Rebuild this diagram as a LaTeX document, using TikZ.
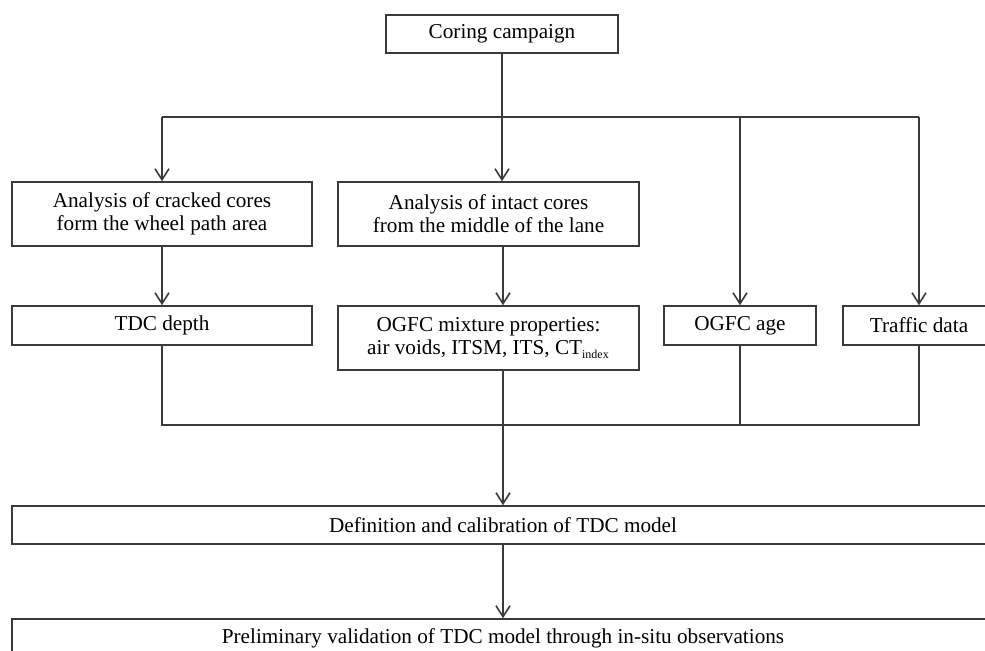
\documentclass[tikz,border=0pt]{standalone}
\usepackage{fontspec}
\setmainfont{Liberation Serif}
\usetikzlibrary{arrows.meta, positioning}
\definecolor{box-border}{HTML}{3A3A3A}
\definecolor{wire}{HTML}{3A3A3A}
\tikzset{
  flow-box/.style={
    draw=box-border, line width=0.8pt, align=center, inner sep=0pt,
    font=\fontsize{10.6}{11.5}\selectfont
  },
  flow-edge/.style={-{Straight Barb[length=5.5pt, width=7pt]}, line width=0.8pt, draw=wire},
  flow-wire/.style={line width=0.8pt, draw=wire}
}

\begin{document}
\begin{tikzpicture}[x=0.5pt, y=-0.5pt]
  \clip (0,0) rectangle (985,650);
  \useasboundingbox (0,0) rectangle (985,650);

  % Top of the chart
  \node[flow-box, minimum width=116pt, minimum height=19pt] (coring) at (502,34) {Coring campaign};

  % First row
  \node[flow-box, minimum width=150pt, minimum height=32pt] (cracked) at (162,214)
    {Analysis of cracked cores\\form the wheel path area};
  \node[flow-box, minimum width=150.5pt, minimum height=32pt] (intact) at (488.5,214)
    {Analysis of intact cores\\from the middle of the lane};

  % Second row
  \node[flow-box, minimum width=150pt, minimum height=19.5pt] (tdc) at (162,325.5) {TDC depth};
  \node[flow-box, minimum width=150.5pt, minimum height=32pt] (mixture) at (488.5,338)
    {OGFC mixture properties:\\air voids, ITSM, ITS, CT\textsubscript{\fontsize{6}{6}\selectfont index}};
  \node[flow-box, minimum width=76pt, minimum height=19.5pt] (age) at (740,325.5) {OGFC age};
  \node[flow-box, minimum width=76pt, minimum height=19.5pt] (traffic) at (919,325.5) {Traffic data};

  % Model boxes
  \node[flow-box, minimum width=491pt, minimum height=19pt] (definition) at (503,525)
    {Definition and calibration of TDC model};
  \node[flow-box, minimum width=491pt, minimum height=19pt] (prelim) at (503,638)
    {Preliminary validation of TDC model through in-situ observations};

  \coordinate (fork) at (502,117);
  \coordinate (join) at (503,425);

  % Branches from the coring campaign
  \draw[flow-edge] (coring.south) -- (coring |- intact.north);
  \draw[flow-wire] (cracked.north |- fork) -- (traffic.north |- fork);
  \draw[flow-edge] (cracked.north |- fork) -- (cracked.north);
  \draw[flow-edge] (age.north |- fork) -- (age.north);
  \draw[flow-edge] (traffic.north |- fork) -- (traffic.north);

  % Analyses to results
  \draw[flow-edge] (cracked.south) -- (tdc.north);
  \draw[flow-edge] (join |- intact.south) -- (join |- mixture.north);

  % Results collected into the model
  \draw[flow-wire] (tdc.south) |- (traffic.south |- join) -- (traffic.south);
  \draw[flow-wire] (age.south) -- (age.south |- join);
  \draw[flow-edge] (join |- mixture.south) -- (join |- definition.north);
  \draw[flow-edge] (definition) -- (prelim);
\end{tikzpicture}
\end{document}
